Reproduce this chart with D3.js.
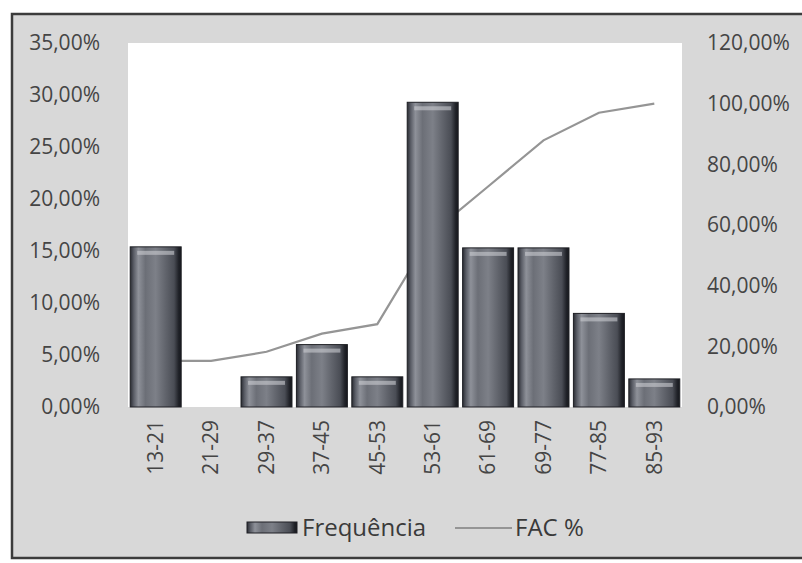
<!DOCTYPE html>
<html>
<head>
<meta charset="utf-8">
<script src="https://cdn.jsdelivr.net/npm/d3@7"></script>
<style>
  body { margin: 0; background: #fff; }
  svg { display: block; }
  text { font-family: "Open Sans", sans-serif; fill: #454545; }
</style>
</head>
<body>
<div id="chart"></div>
<script>
// Chart size and plot area
const width = 802;
const height = 563;
const plot = { left: 128, right: 682, top: 43, bottom: 407 };

// Data
const classes = ["13-21", "21-29", "29-37", "37-45", "45-53", "53-61", "61-69", "69-77", "77-85", "85-93"];
const frequencia = [15.4, 0, 2.9, 6.0, 2.9, 29.3, 15.3, 15.3, 9.0, 2.7];
const facPct = [15.2, 15.2, 18.2, 24.2, 27.3, 57.6, 72.7, 87.9, 97.0, 100];
const leftTicks = [0, 5, 10, 15, 20, 25, 30, 35];
const rightTicks = [0, 20, 40, 60, 80, 100, 120];

const ptBR = d3.formatLocale({ decimal: ",", thousands: ".", grouping: [3], currency: ["R$", ""] });
const pct = v => ptBR.format(".2f")(v) + "%";

const svg = d3.select("#chart")
    .append("svg")
    .attr("width", width)
    .attr("height", height);

// Gradient for the bars (cylinder look)
const defs = svg.append("defs");
const grad = defs.append("linearGradient").attr("id", "barGrad")
    .attr("x1", "0%").attr("x2", "100%").attr("y1", "0%").attr("y2", "0%");
[[0, "#2a2c33"], [0.07, "#5b5e67"], [0.16, "#8e9199"], [0.3, "#6c6f77"], [0.5, "#7d8088"],
 [0.7, "#60636b"], [0.86, "#4a4d55"], [0.95, "#202228"], [1, "#16181d"]]
    .forEach(s => grad.append("stop").attr("offset", s[0]).attr("stop-color", s[1]));

// Chart background and border
svg.append("rect")
    .attr("x", 12).attr("y", 14)
    .attr("width", width).attr("height", 544)
    .attr("fill", "#d8d8d8")
    .attr("stroke", "#3c3c3c")
    .attr("stroke-width", 2.5);

// Plot area
svg.append("rect")
    .attr("x", plot.left).attr("y", plot.top)
    .attr("width", plot.right - plot.left).attr("height", plot.bottom - plot.top)
    .attr("fill", "#ffffff");

// Scales
const x = d3.scaleBand()
    .domain(classes)
    .range([plot.left, plot.right])
    .paddingInner(0.08)
    .paddingOuter(0.04);

const yLeft = d3.scaleLinear().domain([0, 35]).range([plot.bottom, plot.top]);
const yRight = d3.scaleLinear().domain([0, 120]).range([plot.bottom, plot.top]);

// FAC % line (drawn behind the bars)
const line = d3.line()
    .x((d, i) => x(classes[i]) + x.bandwidth() / 2)
    .y(d => yRight(d));

svg.append("path")
    .datum(facPct)
    .attr("d", line)
    .attr("fill", "none")
    .attr("stroke", "#959595")
    .attr("stroke-width", 2.2);

// Bars
const bars = svg.append("g")
    .selectAll("g")
    .data(frequencia.map((v, i) => ({ cls: classes[i], v: v })))
    .join("g")
    .filter(d => d.v > 0);

bars.append("rect")
    .attr("x", d => x(d.cls))
    .attr("y", d => yLeft(d.v))
    .attr("width", x.bandwidth())
    .attr("height", d => plot.bottom - yLeft(d.v))
    .attr("fill", "url(#barGrad)")
    .attr("stroke", "#1e1f24")
    .attr("stroke-width", 1);

// light strip near the top of each bar
bars.append("rect")
    .attr("x", d => x(d.cls) + 7)
    .attr("y", d => yLeft(d.v) + 4)
    .attr("width", x.bandwidth() - 14)
    .attr("height", 4)
    .attr("fill", "#c9cbd0")
    .attr("opacity", 0.6);

// Axes
const leftAxis = svg.append("g")
    .attr("transform", `translate(${plot.left},0)`)
    .call(d3.axisLeft(yLeft).tickValues(leftTicks).tickFormat(pct).tickSize(0).tickPadding(28));

const rightAxis = svg.append("g")
    .attr("transform", `translate(${plot.right},0)`)
    .call(d3.axisRight(yRight).tickValues(rightTicks).tickFormat(pct).tickSize(0).tickPadding(25));

const bottomAxis = svg.append("g")
    .attr("transform", `translate(0,${plot.bottom})`)
    .call(d3.axisBottom(x).tickSize(0));

bottomAxis.selectAll("text")
    .attr("transform", "rotate(-90)")
    .attr("text-anchor", "end")
    .attr("x", -13)
    .attr("y", 0)
    .attr("dy", "0.35em");

[leftAxis, rightAxis, bottomAxis].forEach(a => {
    a.select(".domain").remove();
    a.selectAll("text")
        .style("font-family", "'Open Sans', sans-serif")
        .style("font-size", "21px")
        .style("fill", "#454545");
});

// Legend
const legend = svg.append("g");
legend.append("rect")
    .attr("x", 247).attr("y", 522)
    .attr("width", 50).attr("height", 11)
    .attr("fill", "url(#barGrad)")
    .attr("stroke", "#1e1f24");
legend.append("text")
    .attr("x", 302).attr("y", 536)
    .style("font-size", "24px")
    .style("fill", "#3a3a3a")
    .text("Frequência");
legend.append("line")
    .attr("x1", 455).attr("x2", 512)
    .attr("y1", 528).attr("y2", 528)
    .attr("stroke", "#959595")
    .attr("stroke-width", 2.2);
legend.append("text")
    .attr("x", 515).attr("y", 536)
    .style("font-size", "24px")
    .style("fill", "#3a3a3a")
    .text("FAC %");
</script>
</body>
</html>
